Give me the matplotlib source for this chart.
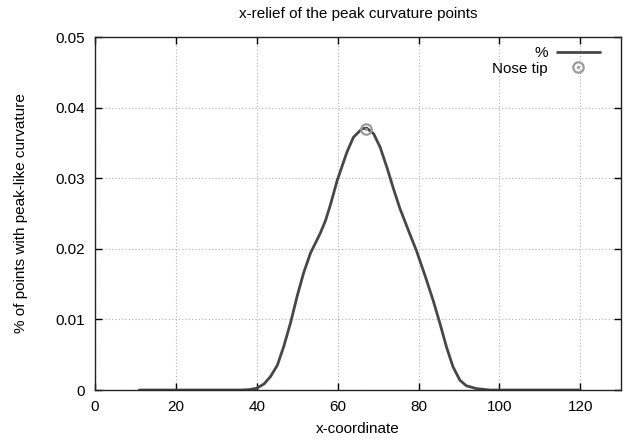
import matplotlib
matplotlib.use("Agg")
import matplotlib.pyplot as plt

plt.rcParams['font.family'] = ['Liberation Sans', 'DejaVu Sans']

x_vals = [11, 20, 30, 36, 38, 40, 41.8, 43.4, 45.1, 46.7, 48.4, 50.0, 51.6, 53.3,
          55.7, 57.0, 58.2, 59.9, 62.3, 63.9, 66.0, 67.2, 68.9, 70.5, 72.2, 73.8,
          75.4, 77.5, 79.5, 81.6, 83.6, 85.3, 86.9, 88.5, 90.2, 91.8, 94.3, 97.6,
          110, 120]
pct_vals = [0, 0, 0, 0, 0.00005, 0.00024, 0.00085, 0.0019, 0.0035, 0.0062, 0.0096,
            0.0133, 0.0166, 0.0194, 0.0222, 0.0240, 0.0262, 0.0297, 0.0337, 0.0358,
            0.0370, 0.0371, 0.0363, 0.0344, 0.0315, 0.0285, 0.0257, 0.0226, 0.0197,
            0.0162, 0.0127, 0.0094, 0.0061, 0.0033, 0.0014, 0.0006, 0.0002, 0,
            0, 0]
nose_x = [67]
nose_y = [0.0370]

xticks = [0, 20, 40, 60, 80, 100, 120]
yticks = [0, 0.01, 0.02, 0.03, 0.04, 0.05]
ytick_labels = ['0', '0.01', '0.02', '0.03', '0.04', '0.05']

fig = plt.figure(figsize=(6.24, 4.44), dpi=100)
ax = fig.add_axes([0.152, 0.1216, 0.843, 0.795])

line, = ax.plot(x_vals, pct_vals, color='#474747', lw=2.0, label='%',
                solid_joinstyle='round', solid_capstyle='round')
circ, = ax.plot(nose_x, nose_y, 'o', mfc='none', mec='#9a9a9a', mew=1.6, ms=7.5)
dot, = ax.plot(nose_x, nose_y, 'o', mfc='#9a9a9a', mec='none', ms=2.2)

ax.set_xlim(0, 130)
ax.set_ylim(0, 0.05)
ax.set_xticks(xticks)
ax.set_yticks(yticks)
ax.set_yticklabels(ytick_labels)
ax.tick_params(direction='in', top=True, right=True, length=5, width=1,
               labelsize=11, colors='black', pad=7)
ax.grid(True, linestyle=(0, (1, 2)), color='#b0b0b0', lw=0.8)
for s in ax.spines.values():
    s.set_linewidth(1.0)
    s.set_color('#222222')

ax.set_title('x-relief of the peak curvature points', fontsize=11, pad=14)
ax.set_xlabel('x-coordinate', fontsize=11, labelpad=6)
ax.set_ylabel('% of points with peak-like curvature', fontsize=11, labelpad=20)

leg = ax.legend([line, (circ, dot)], ['%', 'Nose tip'], loc='upper right',
                bbox_to_anchor=(1 - 12 / 526, 1.0), markerfirst=False,
                frameon=False, fontsize=11, handlelength=2.8, borderaxespad=0.2,
                labelspacing=0.1, handletextpad=0.6)

fig.savefig('out.png', dpi=100)
